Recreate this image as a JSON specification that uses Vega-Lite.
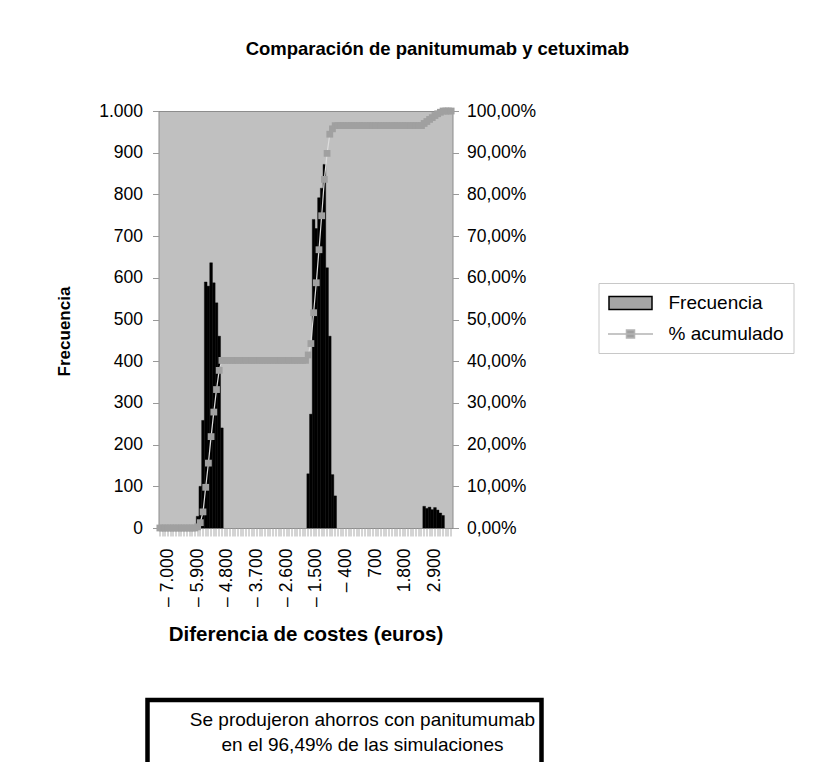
{
  "$schema": "https://vega.github.io/schema/vega-lite/v6.json",
  "background": "#ffffff",
  "padding": {"left": 55, "top": 40, "right": 0, "bottom": 0},
  "center": true,
  "spacing": 51,
  "title": {"text": "Comparación de panitumumab y cetuximab", "anchor": "middle", "fontSize": 18.5, "fontWeight": "bold", "color": "#000", "offset": 43, "dx": 7},
  "config": {
    "font": "Liberation Sans",
    "axis": {"labelColor": "#000", "titleColor": "#000", "labelFontSize": 17.5, "titleFontSize": 17, "titleFontWeight": "bold", "grid": false, "domain": false, "tickColor": "#999999"}
  },
  "resolve": {
    "scale": {"shape": "independent", "fill": "independent", "stroke": "independent"},
    "legend": {"shape": "independent", "fill": "independent", "stroke": "independent"}
  },
  "vconcat": [
    {
      "width": 294,
      "height": 417,
      "view": {"fill": "#c0c0c0", "stroke": "#8c8c8c", "strokeWidth": 1},
      "data": {"values": [
        {"bin": -7300, "freq": 0, "cum": 0}, {"bin": -7200, "freq": 0, "cum": 0}, {"bin": -7100, "freq": 0, "cum": 0}, {"bin": -7000, "freq": 0, "cum": 0},
        {"bin": -6900, "freq": 0, "cum": 0}, {"bin": -6800, "freq": 0, "cum": 0}, {"bin": -6700, "freq": 0, "cum": 0}, {"bin": -6600, "freq": 0, "cum": 0},
        {"bin": -6500, "freq": 0, "cum": 0}, {"bin": -6400, "freq": 0, "cum": 0}, {"bin": -6300, "freq": 0, "cum": 0}, {"bin": -6200, "freq": 0, "cum": 0},
        {"bin": -6100, "freq": 0, "cum": 0}, {"bin": -6000, "freq": 0, "cum": 0},
        {"bin": -5900, "freq": 28, "cum": 0.28}, {"bin": -5800, "freq": 100, "cum": 1.28}, {"bin": -5700, "freq": 258, "cum": 3.86},
        {"bin": -5600, "freq": 590, "cum": 9.76}, {"bin": -5500, "freq": 580, "cum": 15.56}, {"bin": -5400, "freq": 636, "cum": 21.92},
        {"bin": -5300, "freq": 588, "cum": 27.80}, {"bin": -5200, "freq": 540, "cum": 33.20}, {"bin": -5100, "freq": 460, "cum": 37.80},
        {"bin": -5000, "freq": 240, "cum": 40.20},
        {"bin": -4900, "freq": 0, "cum": 40.20}, {"bin": -4800, "freq": 0, "cum": 40.20}, {"bin": -4700, "freq": 0, "cum": 40.20}, {"bin": -4600, "freq": 0, "cum": 40.20},
        {"bin": -4500, "freq": 0, "cum": 40.20}, {"bin": -4400, "freq": 0, "cum": 40.20}, {"bin": -4300, "freq": 0, "cum": 40.20}, {"bin": -4200, "freq": 0, "cum": 40.20},
        {"bin": -4100, "freq": 0, "cum": 40.20}, {"bin": -4000, "freq": 0, "cum": 40.20}, {"bin": -3900, "freq": 0, "cum": 40.20}, {"bin": -3800, "freq": 0, "cum": 40.20},
        {"bin": -3700, "freq": 0, "cum": 40.20}, {"bin": -3600, "freq": 0, "cum": 40.20}, {"bin": -3500, "freq": 0, "cum": 40.20}, {"bin": -3400, "freq": 0, "cum": 40.20},
        {"bin": -3300, "freq": 0, "cum": 40.20}, {"bin": -3200, "freq": 0, "cum": 40.20}, {"bin": -3100, "freq": 0, "cum": 40.20}, {"bin": -3000, "freq": 0, "cum": 40.20},
        {"bin": -2900, "freq": 0, "cum": 40.20}, {"bin": -2800, "freq": 0, "cum": 40.20}, {"bin": -2700, "freq": 0, "cum": 40.20}, {"bin": -2600, "freq": 0, "cum": 40.20},
        {"bin": -2500, "freq": 0, "cum": 40.20}, {"bin": -2400, "freq": 0, "cum": 40.20}, {"bin": -2300, "freq": 0, "cum": 40.20}, {"bin": -2200, "freq": 0, "cum": 40.20},
        {"bin": -2100, "freq": 0, "cum": 40.20}, {"bin": -2000, "freq": 0, "cum": 40.20}, {"bin": -1900, "freq": 0, "cum": 40.20},
        {"bin": -1800, "freq": 130, "cum": 41.50}, {"bin": -1700, "freq": 273, "cum": 44.23}, {"bin": -1600, "freq": 740, "cum": 51.63},
        {"bin": -1500, "freq": 718, "cum": 58.81}, {"bin": -1400, "freq": 792, "cum": 66.73}, {"bin": -1300, "freq": 815, "cum": 74.88},
        {"bin": -1200, "freq": 872, "cum": 83.60}, {"bin": -1100, "freq": 624, "cum": 89.84}, {"bin": -1000, "freq": 460, "cum": 94.44},
        {"bin": -900, "freq": 128, "cum": 95.72}, {"bin": -800, "freq": 77, "cum": 96.49},
        {"bin": -700, "freq": 0, "cum": 96.49}, {"bin": -600, "freq": 0, "cum": 96.49}, {"bin": -500, "freq": 0, "cum": 96.49}, {"bin": -400, "freq": 0, "cum": 96.49},
        {"bin": -300, "freq": 0, "cum": 96.49}, {"bin": -200, "freq": 0, "cum": 96.49}, {"bin": -100, "freq": 0, "cum": 96.49}, {"bin": 0, "freq": 0, "cum": 96.49},
        {"bin": 100, "freq": 0, "cum": 96.49}, {"bin": 200, "freq": 0, "cum": 96.49}, {"bin": 300, "freq": 0, "cum": 96.49}, {"bin": 400, "freq": 0, "cum": 96.49},
        {"bin": 500, "freq": 0, "cum": 96.49}, {"bin": 600, "freq": 0, "cum": 96.49}, {"bin": 700, "freq": 0, "cum": 96.49}, {"bin": 800, "freq": 0, "cum": 96.49},
        {"bin": 900, "freq": 0, "cum": 96.49}, {"bin": 1000, "freq": 0, "cum": 96.49}, {"bin": 1100, "freq": 0, "cum": 96.49}, {"bin": 1200, "freq": 0, "cum": 96.49},
        {"bin": 1300, "freq": 0, "cum": 96.49}, {"bin": 1400, "freq": 0, "cum": 96.49}, {"bin": 1500, "freq": 0, "cum": 96.49}, {"bin": 1600, "freq": 0, "cum": 96.49},
        {"bin": 1700, "freq": 0, "cum": 96.49}, {"bin": 1800, "freq": 0, "cum": 96.49}, {"bin": 1900, "freq": 0, "cum": 96.49}, {"bin": 2000, "freq": 0, "cum": 96.49},
        {"bin": 2100, "freq": 0, "cum": 96.49}, {"bin": 2200, "freq": 0, "cum": 96.49}, {"bin": 2300, "freq": 0, "cum": 96.49}, {"bin": 2400, "freq": 0, "cum": 96.49},
        {"bin": 2500, "freq": 52, "cum": 97.01}, {"bin": 2600, "freq": 47, "cum": 97.48}, {"bin": 2700, "freq": 50, "cum": 97.98},
        {"bin": 2800, "freq": 44, "cum": 98.42}, {"bin": 2900, "freq": 49, "cum": 98.91}, {"bin": 3000, "freq": 43, "cum": 99.34},
        {"bin": 3100, "freq": 36, "cum": 99.70}, {"bin": 3200, "freq": 30, "cum": 100.00},
        {"bin": 3300, "freq": 0, "cum": 100.00}, {"bin": 3400, "freq": 0, "cum": 100.00}, {"bin": 3500, "freq": 0, "cum": 100.00}
      ]},
      "encoding": {
        "x": {
          "field": "bin", "type": "ordinal",
          "scale": {"paddingInner": 0, "paddingOuter": 0},
          "axis": {
            "labelAngle": 270, "labelOverlap": false, "labelPadding": 12, "tickSize": 8, "tickColor": "#aaaaaa",
            "labelExpr": "((datum.value + 7000) % 1100 === 0 && datum.value >= -7000) ? (datum.value < 0 ? '– ' + replace(format(-datum.value, ',d'), ',', '.') : replace(format(datum.value, ',d'), ',', '.')) : ''",
            "title": "Diferencia de costes (euros)", "titlePadding": 18, "titleFontSize": 20.5
          }
        }
      },
      "layer": [
        {
          "transform": [{"filter": "datum.freq > 0"}],
          "mark": {"type": "bar", "fill": "#000000", "stroke": "#000000", "strokeWidth": 0.4},
          "encoding": {
            "y": {"field": "freq", "type": "quantitative", "scale": {"domain": [0, 1000], "nice": false},
              "axis": {"orient": "left", "values": [0, 100, 200, 300, 400, 500, 600, 700, 800, 900, 1000],
                "labelExpr": "replace(format(datum.value, ',d'), ',', '.')", "title": "Frecuencia", "titlePadding": 25, "titleY": 220,
                "tickSize": 6, "labelPadding": 10}}
          }
        },
        {
          "mark": {"type": "line", "stroke": "#dcdcdc", "strokeWidth": 1.2},
          "encoding": {
            "y": {"field": "cum", "type": "quantitative", "scale": {"domain": [0, 100], "nice": false},
              "axis": {"orient": "right", "values": [0, 10, 20, 30, 40, 50, 60, 70, 80, 90, 100],
                "labelExpr": "replace(format(datum.value, '.2f'), '.', ',') + '%'", "title": null,
                "tickSize": 6, "labelPadding": 8}}
          }
        },
        {
          "mark": {"type": "point", "shape": "square", "filled": true, "size": 46, "opacity": 1, "color": "#a0a0a0"},
          "encoding": {
            "y": {"field": "cum", "type": "quantitative", "scale": {"domain": [0, 100], "nice": false}, "axis": null}
          }
        },
        {
          "data": {"values": []},
          "mark": {"type": "point", "opacity": 1},
          "encoding": {
            "x": {"value": 0},
            "shape": {"datum": "% acumulado", "type": "nominal",
              "scale": {"domain": ["Frecuencia", "% acumulado"], "range": ["M-2.15,-0.65H2.15V0.65H-2.15Z", "M-2.25,0H2.25M-0.4,-0.4H0.4V0.4H-0.4Z"]},
              "legend": {
                "orient": "none", "legendX": 440, "legendY": 172, "title": null, "padding": 9,
                "strokeColor": "#c8c8c8", "fillColor": "#ffffff", "labelFontSize": 19, "labelColor": "#000000",
                "symbolSize": 400, "symbolOffset": 12, "labelOffset": 27, "rowPadding": 10, "labelLimit": 300,
                "symbolStrokeWidth": 1.5, "symbolOpacity": 1
              }},
            "fill": {"datum": "% acumulado", "type": "nominal",
              "scale": {"domain": ["Frecuencia", "% acumulado"], "range": ["#a6a6a6", "#a0a0a0"]},
              "legend": {
                "orient": "none", "legendX": 440, "legendY": 172, "title": null, "padding": 9,
                "strokeColor": "#c8c8c8", "fillColor": "#ffffff", "labelFontSize": 19, "labelColor": "#000000",
                "symbolSize": 400, "symbolOffset": 12, "labelOffset": 27, "rowPadding": 10, "labelLimit": 300,
                "symbolStrokeWidth": 1.5, "symbolOpacity": 1
              }},
            "stroke": {"datum": "% acumulado", "type": "nominal",
              "scale": {"domain": ["Frecuencia", "% acumulado"], "range": ["#000000", "#b4b4b4"]},
              "legend": {
                "orient": "none", "legendX": 440, "legendY": 172, "title": null, "padding": 9,
                "strokeColor": "#c8c8c8", "fillColor": "#ffffff", "labelFontSize": 19, "labelColor": "#000000",
                "symbolSize": 400, "symbolOffset": 12, "labelOffset": 27, "rowPadding": 10, "labelLimit": 300,
                "symbolStrokeWidth": 1.5, "symbolOpacity": 1
              }}
          }
        }
      ],
      "resolve": {"scale": {"y": "independent"}}
    },
    {
      "spacing": 0,
      "hconcat": [
        {
          "width": 394, "height": 70,
          "view": {"stroke": "#000000", "strokeWidth": 4.5, "fill": "#ffffff"},
          "data": {"values": [{"t": "Se produjeron ahorros con panitumumab\nen el 96,49% de las simulaciones"}]},
          "mark": {"type": "text", "lineBreak": "\n", "fontSize": 19, "lineHeight": 24.5, "color": "#000000", "dx": 18, "dy": -15, "align": "center", "baseline": "middle"},
          "encoding": {"text": {"field": "t"}}
        },
        {
          "width": 260, "height": 70,
          "view": {"stroke": "#ffffff", "strokeWidth": 0.01, "fill": "#ffffff"},
          "data": {"values": [{"t": ""}]},
          "mark": {"type": "text"},
          "encoding": {"text": {"field": "t"}}
        }
      ]
    }
  ]
}
